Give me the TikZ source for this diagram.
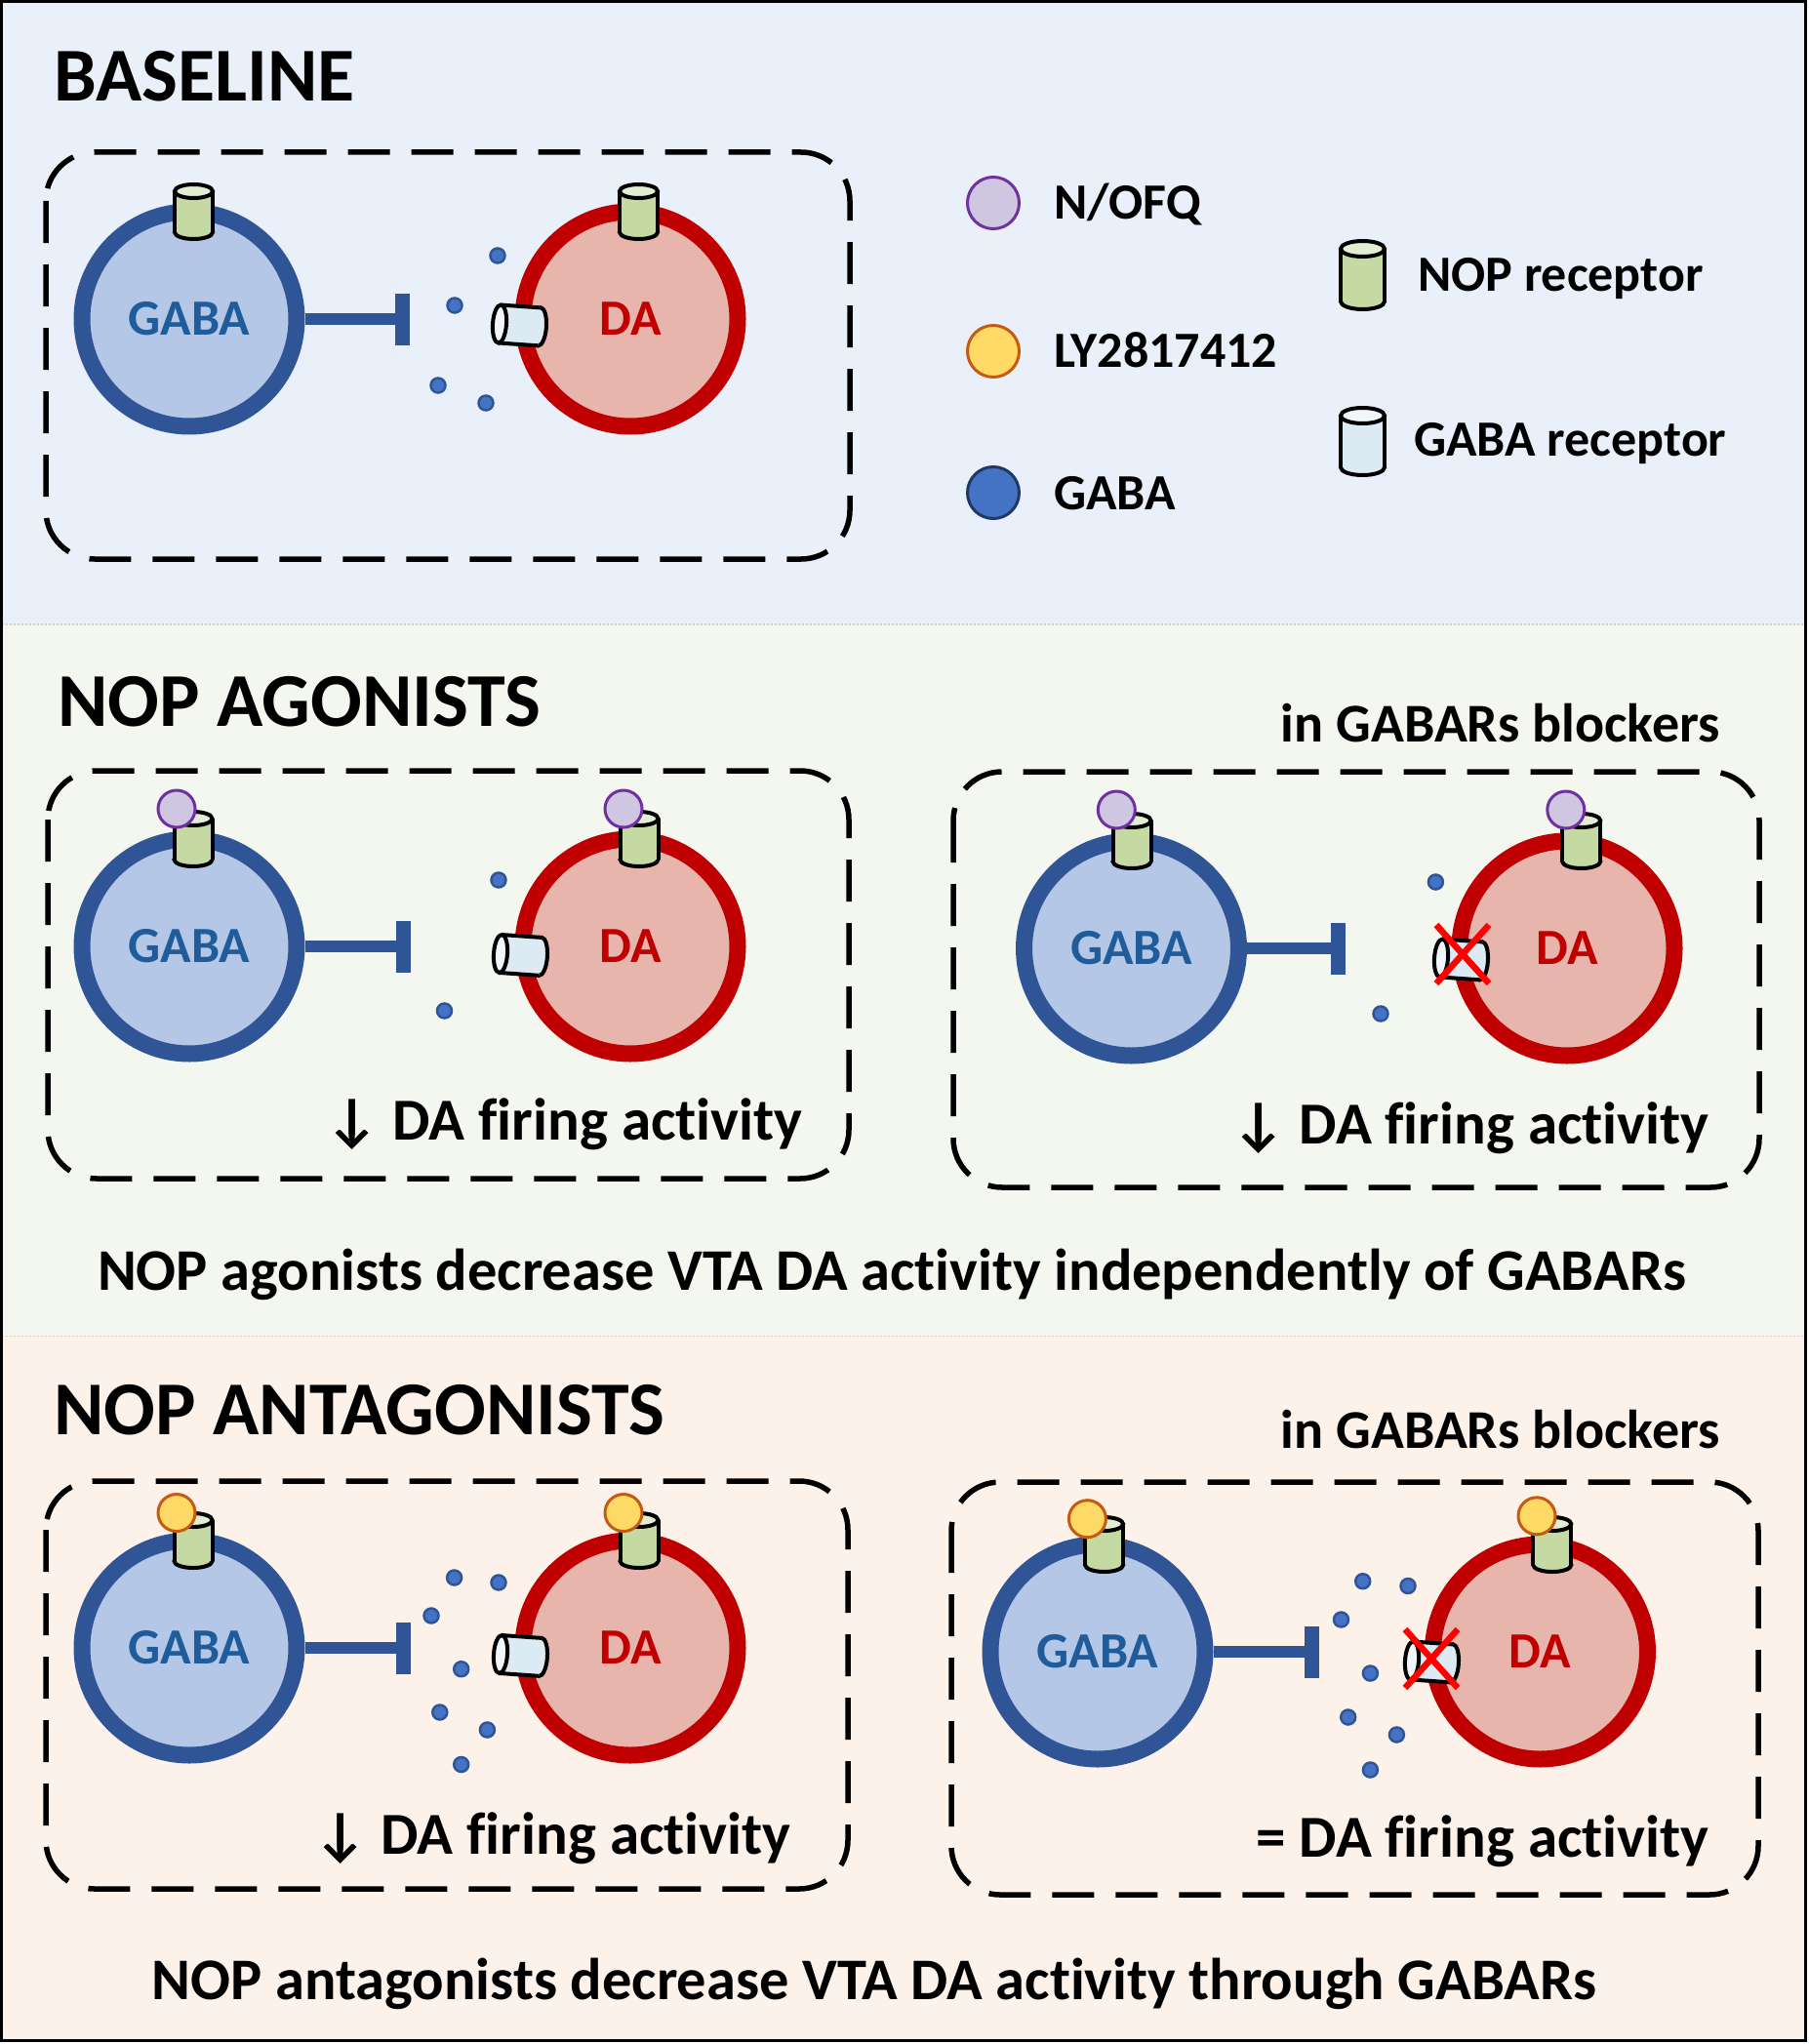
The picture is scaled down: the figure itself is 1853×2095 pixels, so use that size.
\documentclass[tikz,border=0pt]{standalone}
\usepackage{fontspec}
\setmainfont{Carlito}[Ligatures=NoCommon]
\definecolor{bgblue}{HTML}{E9F0FA}
\definecolor{bggreen}{HTML}{F4F7EF}
\definecolor{bgpeach}{HTML}{FCF2EA}
\definecolor{gabaline}{HTML}{2F5597}
\definecolor{gabafill}{HTML}{B4C7E7}
\definecolor{gabatext}{HTML}{1F5C99}
\definecolor{daline}{HTML}{C00000}
\definecolor{dafill}{HTML}{E8B5AD}
\definecolor{dotfill}{HTML}{4472C4}
\definecolor{dotline}{HTML}{203864}
\definecolor{nofqfill}{HTML}{CFC6E1}
\definecolor{nofqline}{HTML}{7030A0}
\definecolor{lyfill}{HTML}{FFD966}
\definecolor{lyline}{HTML}{C55A11}
\definecolor{nopfill}{HTML}{C5D9A2}
\definecolor{noptop}{HTML}{E3EDD4}
\definecolor{grfill}{HTML}{DCEBF3}
\definecolor{grtop}{HTML}{F0F6FA}
\newcommand{\vcyl}[7]{%
  \filldraw[cylline, fill=#6] (#1,#3) ellipse [x radius=#4, y radius=#5];
  \fill[#6] (#1-#4,#2) rectangle (#1+#4,#3);
  \draw[cylline] (#1-#4,#2) -- (#1-#4,#3) (#1+#4,#2) -- (#1+#4,#3);
  \filldraw[cylline, fill=#7] (#1,#2) ellipse [x radius=#4, y radius=#5];}
\newcommand{\hcyl}[2]{%
  \begin{scope}[shift={(#1,#2)}, rotate=-4]
    \filldraw[cylline, fill=grfill] (41,0) ellipse [x radius=7, y radius=19.5];
    \fill[grfill] (0,-19.5) rectangle (41,19.5);
    \draw[cylline] (0,-19.5) -- (41,-19.5) (0,19.5) -- (41,19.5);
    \filldraw[cylline, fill=grtop] (0,0) ellipse [x radius=7, y radius=19.5];
  \end{scope}}
\newcommand{\redcross}[2]{%
  \draw[redx] (#1-27,#2-30) -- (#1+27,#2+30) (#1-27,#2+30) -- (#1+27,#2-30);}
\tikzset{
  cell/.style={circle, line width=17pt, minimum size=220pt, inner sep=0pt,
    font=\fontsize{52}{60}\selectfont\bfseries},
  gabacell/.style={cell, draw=gabaline, fill=gabafill, text=gabatext},
  dacell/.style={cell, draw=daline, fill=dafill, text=daline},
  panel/.style={draw=black, line width=5.5pt, dash pattern=on 43pt off 22pt, rounded corners=50pt},
  inhib/.style={draw=gabaline, line width=12pt},
  tbar/.style={draw=gabaline, line width=15pt},
  gdot/.style={circle, fill=dotfill, draw=gabaline, line width=2.5pt, minimum size=15pt, inner sep=0pt},
  nofq/.style={circle, fill=nofqfill, draw=nofqline, line width=3pt, minimum size=38pt, inner sep=0pt},
  ly/.style={circle, fill=lyfill, draw=lyline, line width=3pt, minimum size=38pt, inner sep=0pt},
  legdot/.style={circle, line width=3pt, minimum size=53pt, inner sep=0pt},
  cylline/.style={draw=black, line width=4pt},
  redx/.style={draw=red, line width=6.5pt},
  title/.style={font=\fontsize{78}{84}\selectfont\bfseries, inner sep=0pt, anchor=base west},
  legtext/.style={font=\fontsize{52}{60}\selectfont\bfseries, inner sep=0pt, anchor=base west},
  condtext/.style={font=\fontsize{56}{62}\selectfont\bfseries, inner sep=0pt, anchor=base east},
  firing/.style={font=\fontsize{61}{66}\selectfont\bfseries, inner sep=0pt, anchor=base east},
  summary/.style={font=\fontsize{60.5}{66}\selectfont\bfseries, inner sep=0pt, anchor=base},
  sepline/.style={draw=black!18, line width=1.5pt, dash pattern=on 2pt off 2pt}
}
\begin{document}
\begin{tikzpicture}[x=1pt, y=-1pt]
\useasboundingbox (0,0) rectangle (1853,2095);
\fill[white] (0,0) rectangle (1853,2095);
\fill[bgblue] (1.5,1.5) rectangle (1850,640);
\fill[bggreen] (1.5,640) rectangle (1850,1369.5);
\fill[bgpeach] (1.5,1369.5) rectangle (1850,2091.5);
\draw[sepline] (1.5,640) -- (1850,640);
\draw[sepline] (1.5,1369.5) -- (1850,1369.5);

% ---------- BASELINE ----------
\node[title] (tbase) at (55,104) {BASELINE};
\draw[panel] (47,156) rectangle (871,573);
\node[gabacell] (g1) at (194,327) {GABA};
\node[dacell] (d1) at (646,327) {DA};
\vcyl{198.5}{196}{238}{19.5}{7}{nopfill}{noptop}
\vcyl{654.5}{196}{238}{19.5}{7}{nopfill}{noptop}
\hcyl{512}{332}
\coordinate (t1) at (412.5,327);
\draw[inhib] (g1.east) -- (t1 |- g1.east);
\draw[tbar] (t1) ++(0,-26.5) -- ++(0,53);
\node[gdot] (b1a) at (510,262) {};
\node[gdot] (b1b) at (466,313) {};
\node[gdot] (b1c) at (449,395) {};
\node[gdot] (b1d) at (498,413) {};

% legend
\node[legdot, fill=nofqfill, draw=nofqline] (lnofq) at (1018,208) {};
\node[legtext] (lnofqt) at (1080,224) {N/OFQ};
\node[legdot, fill=lyfill, draw=lyline] (lly) at (1018,360) {};
\node[legtext] (llyt) at (1080,376) {LY2817412};
\node[legdot, fill=dotfill, draw=dotline] (lgaba) at (1018,505) {};
\node[legtext] (lgabat) at (1080,522) {GABA};
\vcyl{1396.5}{255}{309}{22.5}{8}{nopfill}{noptop}
\node[legtext] (lnopt) at (1453,298) {NOP receptor};
\vcyl{1396.5}{426}{479}{22.5}{8}{grfill}{grtop}
\node[legtext] (lgrt) at (1449,467) {GABA receptor};

% ---------- NOP AGONISTS ----------
\node[title] (tago) at (59,744) {NOP AGONISTS};
\node[condtext] (cago) at (1763,760) {in GABARs blockers};
% left panel
\draw[panel] (49,790) rectangle (870,1208);
\node[gabacell] (g2) at (194,970) {GABA};
\node[dacell] (d2) at (646,970) {DA};
\vcyl{198}{839}{881}{19.5}{7}{nopfill}{noptop}
\vcyl{655}{839}{881}{19.5}{7}{nopfill}{noptop}
\node[nofq] (n2a) at (181,829) {};
\node[nofq] (n2b) at (639,829) {};
\hcyl{513}{977.5}
\coordinate (t2) at (413,970);
\draw[inhib] (g2.east) -- (t2 |- g2.east);
\draw[tbar] (t2) ++(0,-26.5) -- ++(0,53);
\node[gdot] (b2a) at (511,902) {};
\node[gdot] (b2b) at (455.5,1036) {};
\node[firing] (f2) at (823,1168) {↓ DA firing activity};
% right panel
\draw[panel] (977,791) rectangle (1803,1217);
\node[gabacell] (g3) at (1159.5,972) {GABA};
\node[dacell] (d3) at (1606,972) {DA};
\vcyl{1160}{841}{883}{19.5}{7}{nopfill}{noptop}
\vcyl{1620.7}{841}{883}{19.5}{7}{nopfill}{noptop}
\node[nofq] (n3a) at (1144.3,830) {};
\node[nofq] (n3b) at (1604.8,830) {};
\hcyl{1477}{982}
\redcross{1499}{978}
\coordinate (t3) at (1371.5,972);
\draw[inhib] (g3.east) -- (t3 |- g3.east);
\draw[tbar] (t3) ++(0,-26.5) -- ++(0,53);
\node[gdot] (b3a) at (1471.4,904) {};
\node[gdot] (b3b) at (1415,1039) {};
\node[firing] (f3) at (1752,1172) {↓ DA firing activity};
\node[summary] (s1) at (914,1322) {NOP agonists decrease VTA DA activity independently of GABARs};

% ---------- NOP ANTAGONISTS ----------
\node[title] (tant) at (55,1470.5) {NOP ANTAGONISTS};
\node[condtext] (cant) at (1763,1484) {in GABARs blockers};
% left panel
\draw[panel] (47,1518) rectangle (869,1936);
\node[gabacell] (g4) at (194,1689) {GABA};
\node[dacell] (d4) at (646,1689) {DA};
\vcyl{198}{1558}{1600}{19.5}{7}{nopfill}{noptop}
\vcyl{655}{1558}{1600}{19.5}{7}{nopfill}{noptop}
\node[ly] (y4a) at (181,1550.5) {};
\node[ly] (y4b) at (639,1550.5) {};
\hcyl{513}{1695.5}
\coordinate (t4) at (413,1689);
\draw[inhib] (g4.east) -- (t4 |- g4.east);
\draw[tbar] (t4) ++(0,-26.5) -- ++(0,53);
\node[gdot] (b4a) at (465.6,1617) {};
\node[gdot] (b4b) at (511,1622) {};
\node[gdot] (b4c) at (442,1656) {};
\node[gdot] (b4d) at (472.7,1710.7) {};
\node[gdot] (b4e) at (450.8,1755) {};
\node[gdot] (b4f) at (499.4,1773) {};
\node[gdot] (b4g) at (472.7,1808.5) {};
\node[firing] (f4) at (811,1900.5) {↓ DA firing activity};
% right panel
\draw[panel] (975,1519) rectangle (1802,1942);
\node[gabacell] (g5) at (1125,1693) {GABA};
\node[dacell] (d5) at (1578.5,1693) {DA};
\vcyl{1131.6}{1562}{1604}{19.5}{7}{nopfill}{noptop}
\vcyl{1590.8}{1562}{1604}{19.5}{7}{nopfill}{noptop}
\node[ly] (y5a) at (1114.4,1556.7) {};
\node[ly] (y5b) at (1575,1553.8) {};
\hcyl{1447}{1702}
\redcross{1467}{1700}
\coordinate (t5) at (1344,1693);
\draw[inhib] (g5.east) -- (t5 |- g5.east);
\draw[tbar] (t5) ++(0,-26.5) -- ++(0,53);
\node[gdot] (b5a) at (1396.7,1620.7) {};
\node[gdot] (b5b) at (1443,1625.5) {};
\node[gdot] (b5c) at (1374.5,1660) {};
\node[gdot] (b5d) at (1404.4,1715) {};
\node[gdot] (b5e) at (1381.7,1760) {};
\node[gdot] (b5f) at (1431.4,1778) {};
\node[gdot] (b5g) at (1404.4,1814) {};
\node[firing] (f5) at (1752,1903.6) {= DA firing activity};
\node[summary] (s2) at (896,2049) {NOP antagonists decrease VTA DA activity through GABARs};

\draw[line width=3pt] (1.5,1.5) rectangle (1850,2091.5);
\end{tikzpicture}
\end{document}
